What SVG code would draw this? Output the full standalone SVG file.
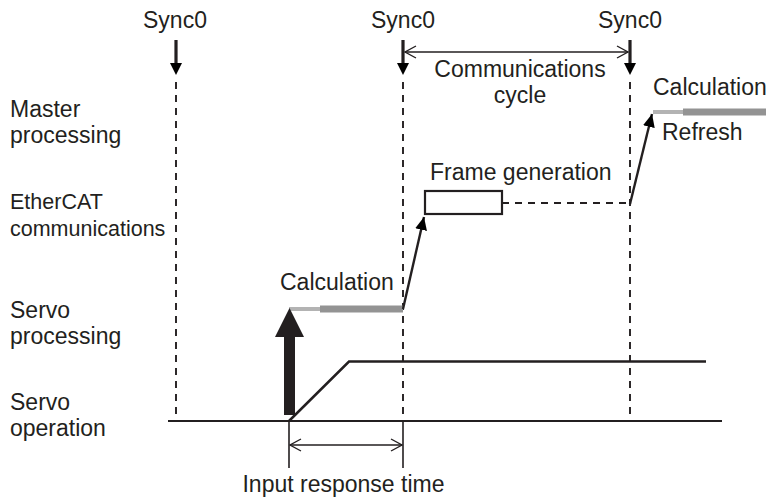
<svg xmlns="http://www.w3.org/2000/svg" width="769" height="501" viewBox="0 0 769 501">
<style>
text{font-family:"Liberation Sans",Arial,sans-serif;font-size:23px;fill:#231f20}
.sm{font-size:21.5px}
.dash{stroke:#231f20;stroke-width:1.9;stroke-dasharray:7 6;fill:none}
.ln{stroke:#231f20;fill:none}
</style>
<defs>
<marker id="open" markerWidth="14" markerHeight="14" refX="13" refY="7" orient="auto-start-reverse" markerUnits="userSpaceOnUse" viewBox="0 0 14 14"><path d="M2,1 L13,7 L2,13" fill="none" stroke="#231f20" stroke-width="1.4"/></marker>
<marker id="head" markerWidth="14" markerHeight="14" refX="13" refY="7" orient="auto" markerUnits="userSpaceOnUse" viewBox="0 0 14 14"><path d="M0,1 L13,7 L0,13 Z" fill="#000"/></marker>
</defs>

<g id="labels">
<text x="10" y="117">Master</text>
<text x="10" y="143">processing</text>
<text class="sm" x="10" y="209">EtherCAT</text>
<text class="sm" x="10" y="236">communications</text>
<text x="10" y="318">Servo</text>
<text x="10" y="344">processing</text>
<text x="10" y="410">Servo</text>
<text x="10" y="436">operation</text>
</g>

<g id="sync0-1">
<text x="175" y="28" text-anchor="middle">Sync0</text>
<line class="ln" x1="176" y1="40" x2="176" y2="64" stroke-width="3.2"/>
<path d="M170,63 L182,63 L176,75 Z" fill="#000"/>
<line class="dash" x1="176" y1="82" x2="176" y2="421"/>
</g>
<g id="sync0-2">
<text x="403" y="28" text-anchor="middle">Sync0</text>
<line class="ln" x1="403" y1="40" x2="403" y2="64" stroke-width="3.2"/>
<path d="M397,63 L409,63 L403,75 Z" fill="#000"/>
<line class="dash" x1="403" y1="82" x2="403" y2="421"/>
</g>
<g id="sync0-3">
<text x="630" y="28" text-anchor="middle">Sync0</text>
<line class="ln" x1="630" y1="40" x2="630" y2="64" stroke-width="3.2"/>
<path d="M624,63 L636,63 L630,75 Z" fill="#000"/>
<line class="dash" x1="630" y1="82" x2="630" y2="421"/>
</g>

<g id="comm-cycle">
<line class="ln" x1="405" y1="52" x2="628" y2="52" stroke-width="1.6" marker-start="url(#open)" marker-end="url(#open)"/>
<text x="520" y="77" text-anchor="middle">Communications</text>
<text x="520" y="103" text-anchor="middle">cycle</text>
</g>

<g id="servo-processing">
<text x="280" y="290">Calculation</text>
<line x1="289" y1="309" x2="320" y2="309" stroke="#b3b3b3" stroke-width="4"/>
<line x1="320" y1="309" x2="403" y2="309" stroke="#939393" stroke-width="7"/>
</g>

<g id="frame-generation">
<text x="430" y="180">Frame generation</text>
<rect x="425" y="191" width="77" height="23" fill="#fff" stroke="#231f20" stroke-width="2.2"/>
</g>

<g id="master-processing">
<text x="653" y="95">Calculation</text>
<line x1="653" y1="112" x2="683" y2="112" stroke="#b3b3b3" stroke-width="4"/>
<line x1="683" y1="112" x2="766" y2="112" stroke="#939393" stroke-width="7"/>
<text x="662" y="140">Refresh</text>
</g>

<g id="servo-operation">
<line class="ln" x1="168" y1="421" x2="722" y2="421" stroke-width="1.8"/>
<polyline class="ln" points="289,421 349,361.5 706,361.5" stroke-width="2.5"/>
<path d="M284,415 L295,415 L295,337 L304,337 L289.5,308 L275,337 L284,337 Z" fill="#231f20"/>
</g>

<g id="connectors">
<line class="ln" x1="403" y1="309" x2="424" y2="217" stroke-width="2.4" marker-end="url(#head)"/>
<line class="dash" x1="502" y1="203" x2="630" y2="203"/>
<line class="ln" x1="630" y1="204" x2="652" y2="114" stroke-width="2.4" marker-end="url(#head)"/>
</g>

<g id="input-response">
<line class="ln" x1="289" y1="421" x2="289" y2="468" stroke-width="1.6"/>
<line class="ln" x1="403" y1="421" x2="403" y2="468" stroke-width="1.6"/>
<line class="ln" x1="290" y1="445" x2="402" y2="445" stroke-width="1.6" marker-start="url(#open)" marker-end="url(#open)"/>
<text x="343.5" y="492" text-anchor="middle">Input response time</text>
</g>
</svg>
